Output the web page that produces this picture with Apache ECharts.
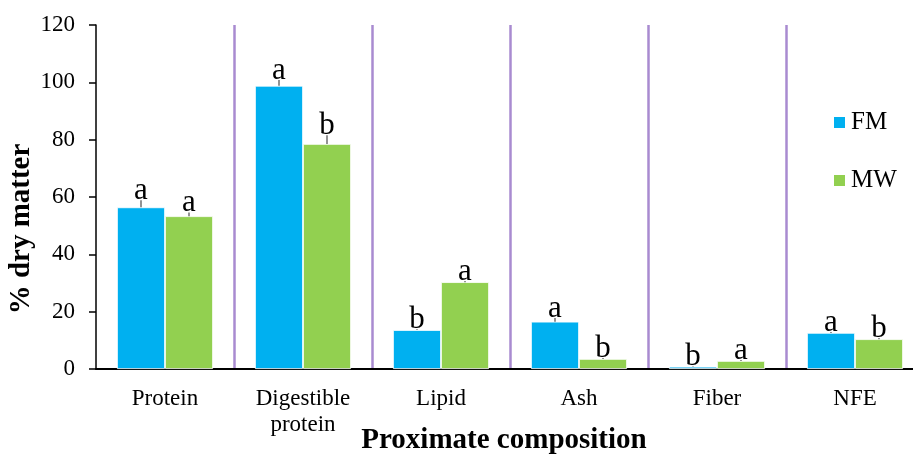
<!DOCTYPE html>
<html>
<head>
<meta charset="utf-8">
<script src="https://cdn.jsdelivr.net/npm/echarts@6/dist/echarts.min.js"></script>
<style>html,body{margin:0;padding:0;background:#fff;overflow:hidden}#chart{width:940px;height:455px}</style>
</head>
<body>
<div id="chart"></div>
<script>
const categories = ['Protein', 'Digestible\nprotein', 'Lipid', 'Ash', 'Fiber', 'NFE'];
const fmValues = [56.4, 98.8, 13.6, 16.5, 0.8, 12.6];
const mwValues = [53.3, 78.5, 30.3, 3.5, 2.8, 10.4];
const fmErrors = [2.5, 2.0, 0.3, 1.3, 0.2, 0.3];
const mwErrors = [1.3, 3.0, 0.4, 0.3, 0.3, 0.4];
const fmLetters = ['a', 'a', 'b', 'a', 'b', 'a'];
const mwLetters = ['a', 'b', 'a', 'b', 'a', 'b'];
const yTicks = { min: 0, max: 120, interval: 20 };

const FONT = 'Liberation Serif';
const BAR_W = 48;

function errSeries(name, values, errors, letters, sign) {
  return {
    name: name,
    type: 'custom',
    z: 5,
    data: values.map((v, i) => [i, v, errors[i]]),
    renderItem: function (params, api) {
      const i = api.value(0), v = api.value(1), e = api.value(2);
      const base = api.coord([i, v]);
      const top = api.coord([i, v + e]);
      const x = base[0] + sign * BAR_W / 2;
      return {
        type: 'group',
        children: [
          { type: 'line', shape: { x1: x, y1: base[1], x2: x, y2: top[1] },
            style: { stroke: '#6f6f6f', lineWidth: 1.5 } },
          { type: 'text', x: x, y: top[1] + 6,
            style: { text: letters[params.dataIndex], font: '31px "' + FONT + '"',
              fill: '#000', align: 'center', verticalAlign: 'bottom' } }
        ]
      };
    }
  };
}

const chart = echarts.init(document.getElementById('chart'), null, { renderer: 'canvas' });
chart.setOption({
  animation: false,
  backgroundColor: '#fff',
  grid: { left: 96, top: 25, width: 828, height: 344, containLabel: false },
  legend: {
    data: ['FM', 'MW'],
    orient: 'vertical',
    left: 832,
    top: 110,
    padding: 0,
    itemWidth: 13,
    itemHeight: 13,
    itemGap: 33,
    icon: 'rect',
    textStyle: { fontFamily: FONT, fontSize: 25, color: '#000' }
  },
  xAxis: {
    type: 'category',
    data: categories,
    axisLine: { lineStyle: { color: '#000', width: 2 } },
    axisTick: { show: false },
    axisLabel: { fontFamily: FONT, fontSize: 23, color: '#000', margin: 17, lineHeight: 26, interval: 0 },
    splitLine: { show: true, interval: function (idx) { return idx > 0; },
      lineStyle: { color: '#A98BD0', width: 2.5 } }
  },
  yAxis: {
    type: 'value',
    min: yTicks.min, max: yTicks.max, interval: yTicks.interval,
    axisLine: { show: true, lineStyle: { color: '#000', width: 1.5 } },
    axisTick: { show: true, length: 7, lineStyle: { color: '#000', width: 1.5 } },
    axisLabel: { fontFamily: FONT, fontSize: 23, color: '#000', margin: 21 },
    splitLine: { show: false }
  },
  graphic: [
    { type: 'text', x: 22, y: 229, rotation: Math.PI / 2,
      style: { text: '% dry matter', font: 'bold 29px "' + FONT + '"', fill: '#000',
        align: 'center', verticalAlign: 'middle' } },
    { type: 'text', x: 504, y: 441,
      style: { text: 'Proximate composition', font: 'bold 29px "' + FONT + '"', fill: '#000',
        align: 'center', verticalAlign: 'middle' } }
  ],
  series: [
    { name: 'FM', type: 'bar', data: fmValues, barWidth: BAR_W, barGap: 0,
      itemStyle: { color: '#00B0F0', borderColor: '#fff', borderWidth: 0.8 } },
    { name: 'MW', type: 'bar', data: mwValues, barWidth: BAR_W, barGap: 0,
      itemStyle: { color: '#92D050', borderColor: '#fff', borderWidth: 0.8 } },
    errSeries('FM err', fmValues, fmErrors, fmLetters, -1),
    errSeries('MW err', mwValues, mwErrors, mwLetters, 1)
  ]
});
</script>
</body>
</html>
